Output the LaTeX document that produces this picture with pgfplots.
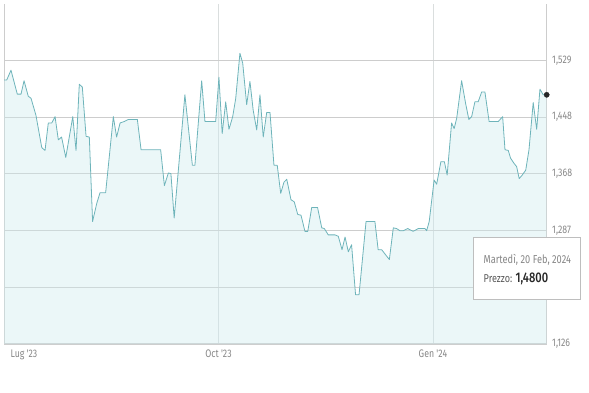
\documentclass[border=0pt]{standalone}
\usepackage{pgfplots}
\pgfplotsset{compat=1.18}
\usepackage{fontspec}
\setmainfont{Fira Sans}
\newfontfamily\cond{Fira Sans}[FakeStretch=0.8]
\newfontfamily\condmed{Fira Sans Medium}[FakeStretch=0.8]
\definecolor{linec}{RGB}{110,180,186}
\definecolor{fillc}{RGB}{205,234,237}
\definecolor{gridh}{RGB}{205,205,205}
\definecolor{gridv}{RGB}{218,222,222}
\definecolor{labc}{RGB}{135,135,135}
\definecolor{boxc}{RGB}{190,190,190}
\begin{document}
\begin{tikzpicture}[x=1bp,y=1bp]
\path[use as bounding box] (0,0) rectangle (589,392);
\begin{axis}[
  at={(4bp,48bp)}, anchor=south west,
  scale only axis, width=542.7bp, height=340bp,
  xmin=0, xmax=232.8, ymin=1.126, ymax=1.609,
  axis x line*=bottom, axis y line*=box,
  axis line style={draw=gridh, line width=0.8bp},
  xtick={92,184}, xticklabels={Oct '23, Gen '24},
  extra x ticks={0}, extra x tick labels={Lug '23},
  extra x tick style={grid=none, xticklabel style={anchor=north west, xshift=3bp}},
  ytick={1.126,1.2066,1.2872,1.3678,1.4484,1.529},
  yticklabels={{1,126},{1,207},{1,287},{1,368},{1,448},{1,529}},
  yticklabel pos=right,
  major tick length=0pt,
  xmajorgrids, ymajorgrids,
  x grid style={draw=gridv, line width=0.6bp},
  y grid style={draw=gridh, line width=1.1bp},
  ticklabel style={font=\cond\fontsize{11}{13}\selectfont, text=labc},
  yticklabel style={anchor=west, xshift=2bp},
  xticklabel style={yshift=-2bp},
  clip=true,
]
\pgfplotstableread{
d v
0 1.501
1.16 1.501
3.0 1.515
5.7 1.481
7.3 1.481
8.6 1.500
10.4 1.478
11.6 1.475
13.7 1.451
16.2 1.405
17.6 1.401
19.0 1.440
20.5 1.440
21.9 1.449
23.3 1.416
24.7 1.420
26.5 1.391
29.5 1.449
30.9 1.401
32.3 1.495
33.6 1.491
35.2 1.421
36.6 1.420
38.0 1.300
39.8 1.326
41.2 1.341
43.6 1.341
46.9 1.449
48.3 1.420
49.8 1.440
51.6 1.442
53.3 1.445
57.2 1.445
58.8 1.402
67.2 1.402
68.8 1.351
70.5 1.369
71.6 1.368
73.0 1.305
77.6 1.480
80.8 1.380
81.9 1.380
84.8 1.500
86.2 1.442
90.8 1.442
92.2 1.505
93.6 1.425
95.1 1.470
96.5 1.431
98.1 1.449
99.4 1.475
101.2 1.539
102.4 1.525
104.1 1.466
105.5 1.499
106.9 1.458
108.4 1.430
109.8 1.480
111.2 1.420
112.7 1.455
114.1 1.455
115.8 1.380
117.2 1.380
118.7 1.340
120.1 1.356
121.3 1.360
123.1 1.331
124.5 1.328
126.0 1.310
127.4 1.309
129.1 1.286
130.3 1.286
132.0 1.320
134.5 1.320
136.3 1.291
137.4 1.290
139.1 1.281
142.0 1.281
143.4 1.279
145.0 1.260
146.3 1.278
147.7 1.257
149.1 1.267
150.8 1.196
152.3 1.196
155.3 1.300
159.1 1.300
160.5 1.260
162.0 1.260
163.4 1.254
165.3 1.246
167.0 1.291
168.4 1.290
169.8 1.287
171.3 1.287
173.2 1.290
175.5 1.286
177.7 1.290
180.6 1.290
181.3 1.287
182.4 1.300
184.5 1.359
185.6 1.353
187.4 1.385
188.9 1.385
190.1 1.366
192.0 1.440
193.1 1.432
194.2 1.447
196.3 1.500
198.0 1.468
199.4 1.445
200.6 1.449
202.0 1.470
203.4 1.470
204.9 1.484
206.3 1.484
208.1 1.442
212.0 1.442
213.9 1.449
214.9 1.402
216.3 1.401
217.3 1.390
218.7 1.383
219.9 1.378
221.0 1.361
222.3 1.366
223.8 1.373
225.2 1.402
227.0 1.469
228.5 1.431
229.9 1.488
231.3 1.480
232.8 1.480
}\prices
\addplot[draw=none, fill=fillc, fill opacity=0.4] table[x=d,y=v] {\prices} \closedcycle;
\addplot[color=linec, line width=0.8bp, line join=round] table[x=d,y=v] {\prices};
\end{axis}
\begin{axis}[
  at={(4bp,48bp)}, anchor=south west,
  scale only axis, width=542.7bp, height=340bp,
  xmin=0, xmax=232.8, ymin=1.126, ymax=1.609,
  hide axis, clip=false,
]
\addplot[only marks, mark=*, mark size=2.6bp, color=black!85] coordinates {(232.8,1.480)};
\end{axis}
\node[draw=boxc, fill=white, line width=0.8bp, minimum width=107bp, minimum height=62bp, inner sep=0pt, anchor=north west] (tt) at (473,155.3) {};
\node[anchor=base west, inner sep=0pt, text=labc, font=\cond\fontsize{11.6}{13}\selectfont] at (483.5,128.5) {Martedì, 20 Feb, 2024};
\node[anchor=base west, inner sep=0pt, font=\cond\fontsize{11.4}{13}\selectfont, text=black!65] at (483.5,109.5) {Prezzo: {\condmed\fontsize{14}{16}\selectfont\color{black!85}1,4800}};
\end{tikzpicture}
\end{document}
